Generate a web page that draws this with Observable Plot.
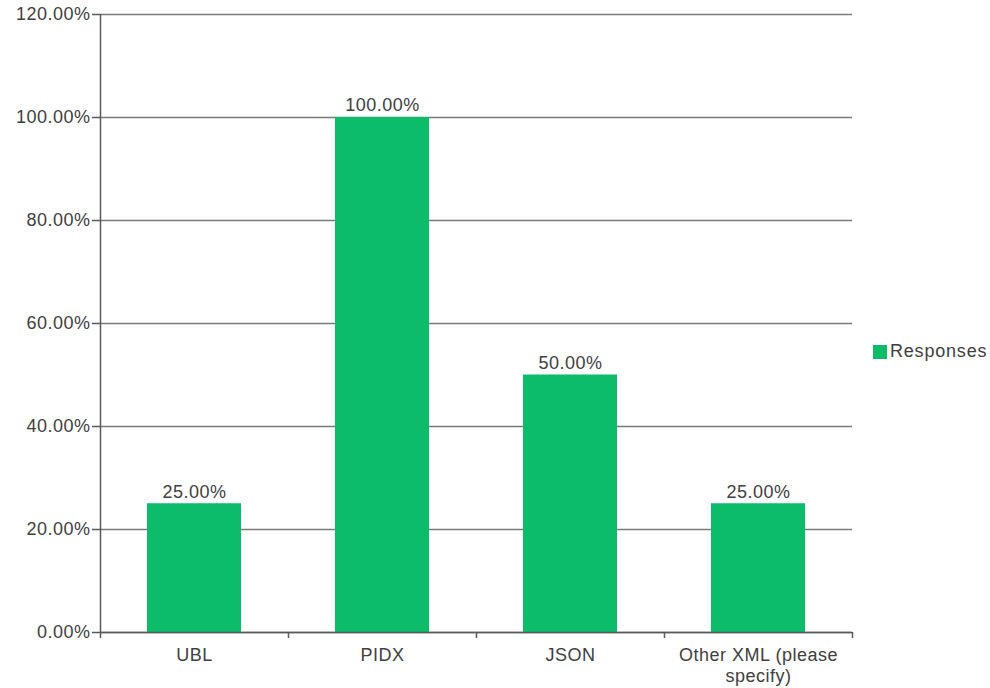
<!DOCTYPE html>
<html>
<head>
<meta charset="utf-8">
<script src="https://cdn.jsdelivr.net/npm/d3@7"></script>
<script src="https://cdn.jsdelivr.net/npm/@observablehq/plot@0.6"></script>
<style>
  html, body { margin: 0; padding: 0; background: #fff; }
  #wrap { position: relative; width: 990px; height: 688px; font-family: "Liberation Sans", Arial, sans-serif; overflow: hidden; }
  #legend { position: absolute; left: 873px; top: 341px; display: flex; align-items: center; font-size: 18px; letter-spacing: 0.8px; color: #404040; white-space: nowrap; }
  #legend .sw { width: 14px; height: 14px; background: #0cbc6b; margin-right: 3px; }
</style>
</head>
<body>
<div id="wrap"><div id="legend"><div class="sw"></div><span>Responses</span></div></div>
<script>
const categories = ["UBL", "PIDX", "JSON", "Other XML (please\nspecify)"];
const values = [0.25, 1.00, 0.50, 0.25];
const yTicks = [0, 0.2, 0.4, 0.6, 0.8, 1.0, 1.2];
const seriesName = "Responses";

const data = categories.map((c, i) => ({cat: c, i, v: values[i]}));
const fmt = d3.format(".2%");
const green = "#0cbc6b";
const ink = "#404040";

const chart = Plot.plot({
  width: 990,
  height: 688,
  marginLeft: 100,
  marginRight: 138,
  marginTop: 14,
  marginBottom: 56,
  style: {fontFamily: "Liberation Sans, Arial, sans-serif", fontSize: "18px", letterSpacing: "0.5px", color: ink, background: "#fff"},
  x: {domain: [0, categories.length], axis: null},
  y: {domain: [0, 1.2], axis: null},
  marks: [
    Plot.gridY(yTicks, {stroke: "#7a7a7a", strokeOpacity: 1, strokeWidth: 1.5}),
    Plot.rectY(data, {x1: d => d.i + 0.25, x2: d => d.i + 0.75, y: "v", fill: green}),
    Plot.ruleX([0], {stroke: "#5a5a5a", strokeWidth: 1.5}),
    Plot.ruleY([0], {stroke: "#5a5a5a", strokeWidth: 1.5}),
    Plot.axisY({ticks: yTicks, tickFormat: fmt, tickSize: 8, tickPadding: 2, stroke: "#5a5a5a", strokeWidth: 1.5, fill: ink, label: null}),
    Plot.axisX({ticks: d3.range(categories.length + 1), tickFormat: () => "", tickSize: 6, stroke: "#5a5a5a", strokeWidth: 1.5, label: null}),
    Plot.axisX({ticks: categories.map((c, i) => i + 0.5), tickFormat: t => categories[Math.floor(t)], tickSize: 0, tickPadding: 13, fill: ink, label: null, lineHeight: 1.2}),
    Plot.text(data, {x: d => d.i + 0.5, y: "v", text: d => fmt(d.v), dy: -12, fill: ink})
  ]
});
document.getElementById("wrap").prepend(chart);
</script>
</body>
</html>
